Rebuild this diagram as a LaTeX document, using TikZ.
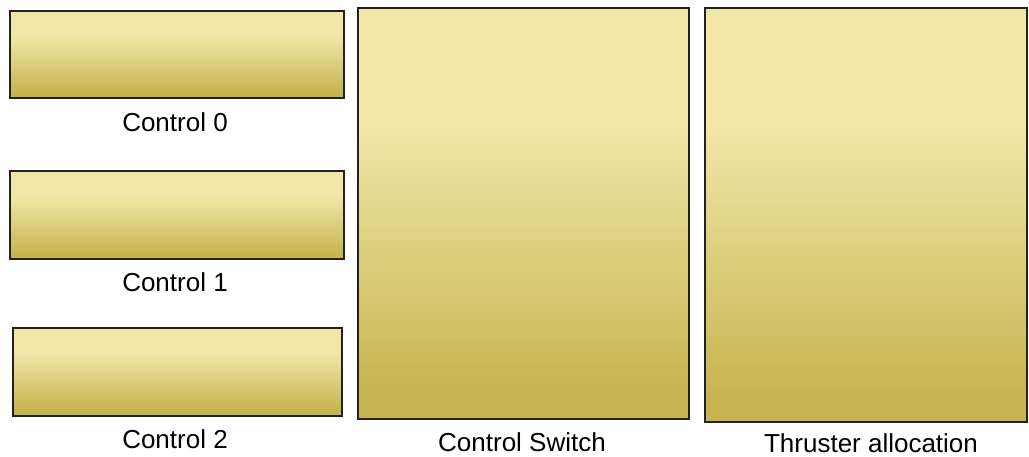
\documentclass[tikz,border=0pt]{standalone}
\usepackage{fontspec}
\setmainfont{Liberation Sans}
\definecolor{gtop}{HTML}{F2E7A9}
\definecolor{gbot}{HTML}{C7B450}
\definecolor{gedge}{HTML}{222222}
\pgfdeclareverticalshading{goldshade}{100bp}{color(0bp)=(gbot); color(25bp)=(gbot); color(28bp)=(gbot); color(61bp)=(gtop); color(75bp)=(gtop); color(100bp)=(gtop)}
\tikzset{
  goldbox/.style={rectangle, inner sep=0pt, anchor=north west, draw=gedge, line width=1.5pt, shading=goldshade,
    preaction={fill=black!35, transform canvas={shift={(1.2pt,-1.2pt)}}}},
  lbl/.style={anchor=base, inner sep=0pt, font=\fontsize{26}{30}\selectfont}
}
\begin{document}
\begin{tikzpicture}[x=1pt,y=-1pt]
\useasboundingbox (0,0) rectangle (1029,456);
\node[goldbox, minimum width=334pt, minimum height=87pt] (c0) at (9,10) {};
\node[goldbox, minimum width=334pt, minimum height=88pt] (c1) at (9,170) {};
\node[goldbox, minimum width=329pt, minimum height=88pt] (c2) at (12,327) {};
\node[goldbox, minimum width=331pt, minimum height=411pt] (sw) at (357,7) {};
\node[goldbox, minimum width=322pt, minimum height=414pt] (ta) at (704,7) {};
\node[lbl] (l0) at (175,131) {Control 0};
\node[lbl] (l1) at (175,291) {Control 1};
\node[lbl] (l2) at (175,448) {Control 2};
\node[lbl] (lsw) at (522,451) {Control Switch};
\node[lbl] (lta) at (871,452) {Thruster allocation};
\end{tikzpicture}
\end{document}
